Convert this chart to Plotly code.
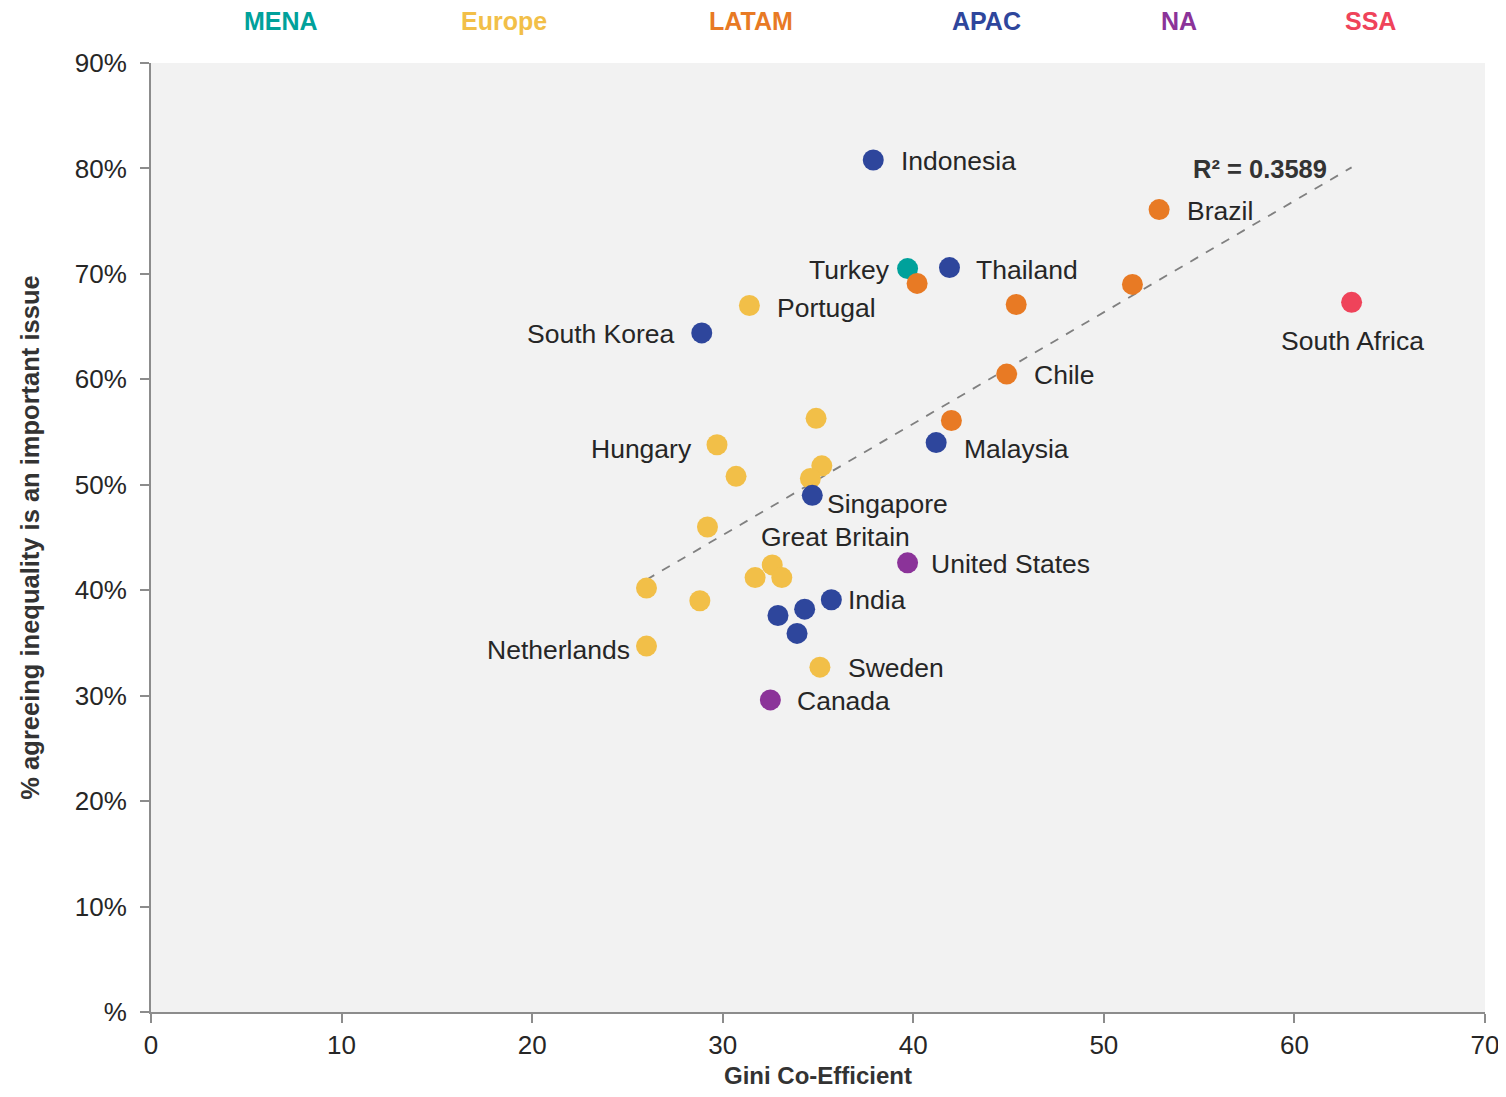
import plotly.graph_objects as go

# ---------------- data ----------------
labels = ["Indonesia", "Brazil", "Turkey", "", "Thailand", "", "", "South Africa",
          "Portugal", "South Korea", "Chile", "", "Malaysia", "", "Hungary", "", "", "",
          "Singapore", "", "United States", "Great Britain", "", "", "", "", "India",
          "", "", "", "Netherlands", "Sweden", "Canada"]
gini = [37.9, 52.9, 39.7, 40.2, 41.9, 45.4, 51.5, 63.0,
        31.4, 28.9, 44.9, 42.0, 41.2, 34.9, 29.7, 30.7, 35.2, 34.6,
        34.7, 29.2, 39.7, 32.6, 33.1, 31.7, 26.0, 28.8, 35.7,
        34.3, 32.9, 33.9, 26.0, 35.1, 32.5]
pct = [80.8, 76.1, 70.5, 69.1, 70.6, 67.1, 69.0, 67.3,
       67.0, 64.4, 60.5, 56.1, 54.0, 56.3, 53.8, 50.8, 51.8, 50.6,
       49.0, 46.0, 42.6, 42.4, 41.2, 41.2, 40.2, 39.0, 39.1,
       38.2, 37.6, 35.9, 34.7, 32.7, 29.6]
region = ["APAC", "LATAM", "MENA", "LATAM", "APAC", "LATAM", "LATAM", "SSA",
          "Europe", "APAC", "LATAM", "LATAM", "APAC", "Europe", "Europe", "Europe", "Europe", "Europe",
          "APAC", "Europe", "NA", "Europe", "Europe", "Europe", "Europe", "Europe", "APAC",
          "APAC", "APAC", "APAC", "Europe", "Europe", "NA"]

regions = ["MENA", "Europe", "LATAM", "APAC", "NA", "SSA"]

trend_x = [26.0, 63.0]
trend_y = [41.0, 80.1]
r2_text = "R² = 0.3589"

x_title = "Gini Co-Efficient"
y_title = "% agreeing inequality is an important issue"
y_tickvals = [0, 10, 20, 30, 40, 50, 60, 70, 80, 90]
y_ticktext = ["%", "10%", "20%", "30%", "40%", "50%", "60%", "70%", "80%", "90%"]
x_tickvals = [0, 10, 20, 30, 40, 50, 60, 70]

# ---------------- styles ----------------
colors = {"MENA": "#00a19b", "Europe": "#f2bf48", "LATAM": "#e87a24",
          "APAC": "#2e469c", "NA": "#8b3399", "SSA": "#ef435a"}
# legend header placement (paper x, pixel shift above plot)
header_pos = {"MENA": (0.0975, 42), "Europe": (0.2646, 42), "LATAM": (0.4498, 42),
              "APAC": (0.626, 42), "NA": (0.7706, 42), "SSA": (0.9145, 42)}
# label placement: (xanchor, xshift, yshift)
label_pos = {
    "Indonesia": ("left", 26, -1), "Brazil": ("left", 26, -1), "Turkey": ("right", -16, -1),
    "Thailand": ("left", 25, -2), "South Africa": ("center", 1, -39), "Portugal": ("left", 26, -2),
    "South Korea": ("right", -25, -1), "Chile": ("left", 25, -1), "Malaysia": ("left", 26, -6),
    "Hungary": ("right", -23, -4), "Singapore": ("left", 13, -9), "United States": ("left", 21, -1),
    "Great Britain": ("center", 63, 28), "India": ("left", 15, 0), "Netherlands": ("right", -14, -4),
    "Sweden": ("left", 26, -1), "Canada": ("left", 25, -1),
}
FONT = "Liberation Sans, Arial, sans-serif"
TXT = "#262626"

fig = go.Figure()

fig.add_trace(go.Scatter(
    x=trend_x, y=trend_y, mode="lines",
    line=dict(color="#808080", width=1.8, dash="dash"),
    hoverinfo="skip", showlegend=False))

for reg in regions:
    xs = [g for g, r in zip(gini, region) if r == reg]
    ys = [p for p, r in zip(pct, region) if r == reg]
    fig.add_trace(go.Scatter(
        x=xs, y=ys, mode="markers", name=reg,
        marker=dict(size=21, color=colors[reg], line=dict(width=0)),
        showlegend=False))

# point labels
for name, g, p in zip(labels, gini, pct):
    if not name:
        continue
    xa, xs_, ys_ = label_pos[name]
    fig.add_annotation(x=g, y=p, xref="x", yref="y", text=name, showarrow=False,
                       xanchor=xa, yanchor="middle", xshift=xs_, yshift=ys_,
                       font=dict(family=FONT, size=26.5, color=TXT))

# R2 text
fig.add_annotation(x=trend_x[1], y=trend_y[1], xref="x", yref="y", text="<b>" + r2_text + "</b>",
                   showarrow=False, xanchor="right", yanchor="middle", xshift=-23, yshift=-2,
                   font=dict(family=FONT, size=25.5, color="#333333"))

# region headers
for reg in regions:
    px_, sh = header_pos[reg]
    fig.add_annotation(x=px_, y=1, xref="paper", yref="paper", text="<b>" + reg + "</b>",
                       showarrow=False, xanchor="center", yanchor="middle", yshift=sh,
                       font=dict(family=FONT, size=25, color=colors[reg]))

# x axis title (as annotation for exact placement)
fig.add_annotation(x=0.5, y=0, xref="paper", yref="paper", text="<b>" + x_title + "</b>",
                   showarrow=False, xanchor="center", yanchor="middle", yshift=-63,
                   font=dict(family=FONT, size=24, color="#333333"))

fig.update_layout(
    width=1490, height=1081,
    margin=dict(l=143, r=13, t=55, b=77, autoexpand=False),
    paper_bgcolor="white", plot_bgcolor="#f2f2f2",
    font=dict(family=FONT, color=TXT),
    xaxis=dict(range=[0, 70], tickvals=x_tickvals, showgrid=False, zeroline=False,
               automargin=False, ticklabeloverflow="allow",
               showline=True, linecolor="#8c8c8c", linewidth=2,
               ticks="outside", ticklen=9, tickcolor="#8c8c8c", tickwidth=2,
               tickfont=dict(family=FONT, size=26, color=TXT)),
    yaxis=dict(range=[0, 90], tickvals=y_tickvals, ticktext=y_ticktext, showgrid=False,
               zeroline=False, automargin=False, showline=True, linecolor="#8c8c8c", linewidth=2,
               ticks="outside", ticklen=9, tickcolor="#8c8c8c", tickwidth=2,
               ticklabelstandoff=8,
               tickfont=dict(family=FONT, size=26, color=TXT),
               title=dict(text="<b>" + y_title + "</b>", standoff=28,
                          font=dict(family=FONT, size=25.5, color="#333333"))),
)

fig.write_html("out.html")
